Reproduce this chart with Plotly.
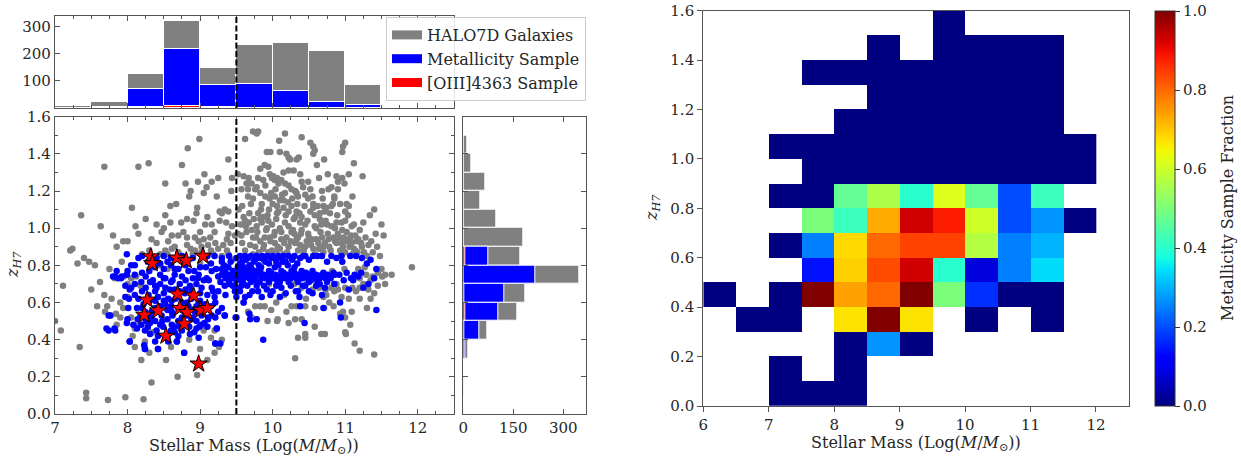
import numpy as np
import plotly.graph_objects as go

# ---------------------------------------------------------------- data
# HALO7D galaxies: stellar mass (log M/Msun) and redshift
gray_mass = [
    9.73, 9.78, 9.62, 8.99, 9.80, 10.17, 10.09, 10.40, 10.52, 10.56, 10.58, 10.56, 11.00, 10.97, 10.96,
    9.92, 9.97, 10.10, 10.19, 10.22, 10.24, 10.33, 10.36, 10.71, 10.61, 11.12, 8.83, 9.39, 7.68, 8.15,
    8.29, 8.75,
    9.06, 9.25, 9.16, 8.97, 8.80, 8.52, 8.87, 8.85, 9.05, 9.09, 9.23, 9.44, 9.43, 9.52, 9.60, 9.67,
    9.64, 9.57, 9.66, 9.71, 9.66, 9.73,
    9.83, 9.89, 9.94, 10.15, 10.22, 10.29, 10.38, 10.40, 10.64, 10.76, 10.88, 10.96, 11.05, 11.24,
    9.80, 9.87, 9.99, 10.03, 10.08, 9.96, 10.01, 10.06,
    10.12, 10.17, 10.22, 10.26, 10.31, 10.33, 10.49, 10.52, 10.68, 10.77, 10.81, 10.90, 10.99, 10.90,
    9.76, 9.83, 9.90, 9.96, 10.03, 10.10, 10.06, 10.17, 10.15, 10.35, 10.45, 10.49, 10.56, 10.56,
    10.70, 10.74, 10.81, 10.72, 10.65, 10.85, 10.85, 11.02, 11.05, 11.00, 11.10, 11.40, 11.34, 11.25,
    11.50, 11.42, 11.53, 11.48, 11.92,
    8.06, 8.67, 8.59, 8.96, 7.36, 8.52, 8.59, 8.82, 8.91, 7.63, 8.11, 8.74, 9.07, 9.16, 9.27, 9.30,
    9.34, 9.39, 9.27, 9.36, 9.44, 9.39, 9.37, 9.00, 8.93, 8.98, 9.05, 9.14, 8.77, 8.82, 8.70, 8.61,
    8.56, 8.47, 8.40, 8.33, 8.65, 8.61, 8.52, 7.80, 7.94, 7.85, 7.24, 7.31, 7.40, 7.47, 8.82, 8.87,
    8.93, 9.02, 9.11, 9.21, 9.25, 9.32, 9.37, 9.02, 9.09, 9.18, 9.30, 9.39,
    9.53, 9.60, 9.67, 9.71, 9.64, 9.57, 9.73, 9.69, 9.62, 9.73, 9.55, 9.62, 9.58,
    9.80, 9.87, 9.94, 9.85, 9.78, 9.92, 9.99, 10.03, 10.10, 10.17, 10.22, 10.26, 10.19, 10.12, 10.03,
    9.96, 9.89, 9.83, 9.76, 9.87, 9.99, 10.10, 10.22, 10.31, 10.35, 10.40, 10.45, 10.49, 10.54, 10.45,
    10.35, 10.56, 10.63, 10.68, 10.75, 10.81, 10.88, 10.95, 11.02, 11.09, 11.14, 11.04, 10.95, 10.86,
    10.77, 10.70, 10.93, 11.09, 11.18, 11.23, 11.32, 11.14, 11.00, 10.26, 10.22, 10.31, 10.40, 10.33,
    10.15, 10.06, 10.38,
    9.85, 9.95, 10.05, 10.30, 10.60, 10.65, 10.58, 10.90, 10.98, 11.20, 11.28, 10.47, 10.38, 10.80, 11.06,
    11.64, 11.51, 11.32, 11.20, 11.10, 11.45, 11.38, 11.29, 11.19, 10.82, 10.99, 11.18, 11.27, 11.50,
    10.55, 10.64, 10.73, 10.81, 10.90, 11.00, 10.30, 10.40, 10.48, 10.10, 9.95, 9.85, 9.75,
    11.09, 11.07, 11.13, 11.20, 11.40, 11.00, 11.01, 11.00, 10.97, 10.93, 10.84, 10.71, 10.67, 10.72,
    10.58, 10.45, 10.45, 10.35, 10.31, 10.40, 10.31, 10.22, 10.19, 10.07, 10.06, 9.93, 9.98, 9.76,
    9.83, 9.89, 10.05, 10.16, 10.26, 10.33, 10.45, 10.58, 10.46, 10.70, 10.74, 9.66, 9.71, 10.85,
    9.60, 11.30, 11.20, 11.35,
    7.11, 7.08, 7.34, 7.50, 7.58, 7.69, 7.77, 7.84, 7.78, 7.94, 8.07, 8.24, 8.19, 8.33, 8.53, 8.69,
    8.96, 9.10, 7.43, 7.43, 7.73, 7.97, 8.22, 9.26, 7.00, 7.21,
    7.95, 8.05, 8.12, 7.82, 8.00, 8.18, 8.30, 8.45, 8.55, 8.62, 8.75, 8.90, 9.00, 8.10, 8.16, 8.28,
    8.35, 7.90, 7.85, 8.00, 9.20, 9.30, 9.05,
    9.78, 9.84, 9.90, 9.93, 9.98, 10.00, 10.04, 10.08, 10.13, 10.18, 10.21, 10.27, 10.29, 10.34,
    10.37, 10.42, 10.44, 10.48, 10.52, 10.55, 10.58, 10.62, 10.66, 10.69, 10.73, 10.76, 10.79, 10.83,
    10.86, 10.89, 10.93, 10.96, 11.00, 11.04, 11.08, 11.12, 11.16, 11.22, 11.36, 11.44,
    9.79, 9.83, 9.88, 9.91, 9.97, 10.02, 10.07, 10.12, 10.16, 10.20, 10.25, 10.28, 10.33, 10.39,
    10.43, 10.50, 10.53, 10.60, 10.64, 10.67, 10.72, 10.78, 10.84, 10.88, 10.92, 10.97, 11.02, 11.07,
    11.12, 11.17, 11.26, 11.38,
    9.70, 9.68, 9.63, 9.58, 9.52, 9.56, 9.74, 9.77, 9.81, 9.94, 10.05, 10.15, 10.58, 10.70, 10.95,
    11.10, 11.30, 11.55, 11.45, 11.35, 11.25, 11.15, 11.05, 10.95, 10.88, 10.78, 11.40, 11.55, 11.20,
    8.40, 8.30, 8.20, 8.45, 8.55, 8.70, 8.85, 9.15, 9.42, 9.45, 9.48, 9.20, 9.10, 8.95, 8.50, 8.25,
    8.15, 8.00, 7.92, 7.75, 7.62, 7.55, 7.68, 7.72, 7.90, 8.05, 8.10, 8.30, 8.60, 9.00, 9.15, 9.20,
    8.85,
]
gray_z = [
    1.52, 1.51, 1.48, 1.48, 1.52, 1.51, 1.47, 1.49, 1.46, 1.44, 1.42, 1.40, 1.46, 1.44, 1.41,
    1.41, 1.41, 1.41, 1.40, 1.38, 1.37, 1.37, 1.38, 1.37, 1.34, 1.35, 1.43, 1.37, 1.33, 1.33,
    1.35, 1.34,
    1.29, 1.27, 1.25, 1.25, 1.24, 1.24, 1.20, 1.17, 1.19, 1.22, 1.17, 1.27, 1.20, 1.29, 1.28, 1.27,
    1.24, 1.21, 1.21, 1.24, 1.17, 1.16,
    1.32, 1.34, 1.33, 1.30, 1.31, 1.31, 1.29, 1.25, 1.27, 1.29, 1.28, 1.27, 1.29, 1.28,
    1.27, 1.26, 1.27, 1.26, 1.24, 1.29, 1.28, 1.27,
    1.26, 1.24, 1.23, 1.21, 1.20, 1.19, 1.25, 1.21, 1.20, 1.21, 1.22, 1.21, 1.24, 1.25,
    1.21, 1.19, 1.17, 1.16, 1.17, 1.15, 1.12, 1.19, 1.15, 1.17, 1.18, 1.16, 1.13, 1.11,
    1.12, 1.11, 1.12, 1.09, 1.08, 1.17, 1.16, 1.13, 1.12, 1.09, 1.17, 1.10, 1.07, 1.03,
    1.02, 0.97, 0.96, 0.85, 0.79,
    1.11, 1.13, 1.12, 1.11, 1.07, 1.07, 1.03, 1.05, 1.04, 1.01, 1.01, 1.03, 1.02, 1.02, 1.09, 1.08,
    1.10, 1.09, 1.04, 1.03, 1.01, 0.97, 0.94, 0.98, 0.95, 0.93, 0.94, 0.95, 0.98, 0.95, 0.96, 0.96,
    0.93, 0.98, 0.92, 0.94, 0.90, 0.89, 0.88, 0.96, 0.93, 0.90, 0.89, 0.81, 0.84, 0.82, 0.91, 0.89,
    0.88, 0.90, 0.91, 0.92, 0.89, 0.91, 0.88, 0.87, 0.85, 0.86, 0.85, 0.86,
    1.10, 1.06, 1.03, 0.99, 0.98, 0.96, 0.95, 0.91, 0.88, 0.86, 0.85, 1.04, 1.12,
    1.08, 1.06, 1.04, 1.03, 1.01, 1.00, 1.02, 0.98, 1.00, 1.03, 1.01, 0.98, 0.95, 0.94, 0.92,
    0.95, 0.95, 0.93, 0.90, 0.89, 0.88, 0.89, 0.90, 0.92, 0.95, 0.99, 1.02, 0.97, 0.94, 0.90,
    0.88, 0.89, 0.92, 0.95, 1.02, 1.01, 1.03, 1.03, 0.98, 1.01, 0.96, 0.94, 0.92, 0.93,
    0.94, 0.90, 0.88, 0.92, 0.94, 0.90, 0.91, 0.88, 0.87, 1.12, 1.09, 1.06, 1.06, 1.09,
    1.11, 1.08, 1.03,
    1.13, 1.10, 1.05, 0.97, 1.00, 1.05, 1.07, 0.97, 0.95, 0.99, 0.95, 0.93, 0.91, 0.88, 0.90,
    0.75, 0.74, 0.67, 0.68, 0.68, 0.69, 0.74, 0.75, 0.76, 0.77, 0.78, 0.78, 0.79, 0.78,
    0.67, 0.68, 0.67, 0.68, 0.67, 0.68, 0.70, 0.68, 0.71, 0.72, 0.70, 0.74, 0.77,
    0.55, 0.48, 0.38, 0.34, 0.32, 0.44, 0.43, 0.52, 0.55, 0.54, 0.58, 0.57, 0.43, 0.43,
    0.47, 0.43, 0.41, 0.41, 0.30, 0.51, 0.51, 0.49, 0.55, 0.51, 0.50, 0.50, 0.56, 0.58,
    0.58, 0.58, 0.60, 0.64, 0.58, 0.58, 0.58, 0.57, 0.62, 0.63, 0.64, 0.55, 0.52, 0.66,
    0.60, 0.57, 0.62, 0.62,
    0.69, 0.45, 0.36, 0.67, 0.58, 0.55, 0.53, 0.54, 0.62, 0.57, 0.42, 0.39, 0.29, 0.17, 0.29, 0.20,
    0.21, 0.29, 0.115, 0.085, 0.075, 0.09, 0.08, 0.36, 0.50, 0.88,
    0.74, 0.73, 0.74, 0.73, 0.70, 0.69, 0.78, 0.80, 0.78, 0.84, 0.85, 0.86, 0.81, 0.46, 0.48, 0.45,
    0.44, 0.60, 0.48, 0.63, 0.45, 0.40, 0.45,
    1.22, 1.10, 1.23, 1.07, 1.19, 1.13, 1.21, 1.09, 1.18, 1.07, 1.14, 1.16, 1.05, 1.13,
    1.08, 1.22, 1.12, 1.04, 1.09, 1.17, 1.01, 1.12, 0.98, 1.16, 1.04, 0.97, 1.08, 1.13,
    1.00, 1.07, 1.13, 0.99, 1.04, 1.07, 0.96, 1.02, 0.93, 0.92, 0.93, 0.90,
    0.98, 1.05, 0.91, 0.99, 0.93, 0.96, 0.90, 0.98, 0.92, 0.87, 0.93, 0.99, 0.94, 0.97,
    0.88, 0.95, 0.91, 0.94, 0.89, 1.02, 0.92, 0.90, 0.95, 0.92, 0.95, 0.90, 0.93, 0.94,
    0.89, 0.87, 0.87, 0.87,
    1.13, 1.08, 1.01, 0.92, 0.97, 1.02, 1.05, 0.95, 0.87, 0.87, 0.87, 0.86, 0.86, 0.87, 0.86,
    0.86, 0.85, 0.75, 0.76, 0.72, 0.70, 0.66, 0.62, 0.63, 0.70, 0.60, 0.65, 0.70, 0.73,
    1.02, 0.88, 0.86, 0.86, 0.86, 0.87, 0.83, 0.88, 0.92, 0.83, 0.96, 0.98, 1.06, 1.08, 1.00, 1.05,
    0.97, 0.93, 0.82, 0.78, 0.71, 0.80, 0.64, 0.58, 0.52, 0.52, 0.36, 0.33, 0.36, 0.35, 0.41, 0.33,
    0.40,
]

# Metallicity sample
blue_mass = [
    7.76, 7.74, 7.83, 8.00, 8.03, 7.99, 7.91, 7.97, 8.03, 7.97, 8.01, 8.24, 8.42, 8.68, 8.78, 8.99,
    9.23, 9.21, 9.28, 9.34, 9.50, 9.68, 9.78, 9.69, 9.87, 10.44, 10.38, 10.70, 10.94, 11.43, 11.05,
    10.93, 11.43, 11.30, 11.23, 11.07, 10.95, 10.81, 10.68, 10.84, 11.02, 11.11, 11.18, 11.40, 11.13,
    9.55, 9.62, 9.70, 9.78, 9.86, 9.93, 10.00, 10.08, 10.15, 10.22, 10.30, 10.45, 10.62,
    9.50, 9.66, 9.82, 9.98, 10.12, 10.27, 10.38,
    9.58, 9.74, 9.90, 10.05, 10.18,
    9.52, 9.60, 9.70, 9.84, 10.03, 10.30,
    9.45, 9.57, 9.65, 9.78, 9.95, 10.12, 10.26, 10.40, 10.55,
    9.30, 9.38, 9.47, 9.55, 9.63, 9.72, 9.80, 9.88, 9.96, 10.04, 10.12, 10.20, 10.28, 10.36, 10.44,
    10.52, 10.60, 10.68, 10.76, 10.86,
    9.35, 9.43, 9.52, 9.60, 9.68, 9.76, 9.85, 9.93, 10.01, 10.09, 10.17, 10.25, 10.33, 10.41, 10.49,
    10.57, 10.65, 10.73,
    9.40, 9.58, 9.70, 9.82, 9.95, 10.10, 10.22, 10.35, 10.50, 10.62, 10.75,
    9.48, 9.65, 9.88, 10.05, 10.25, 10.42, 10.60,
    9.55, 9.72, 9.80, 10.00, 10.32, 10.50,
    9.62, 9.85, 10.10, 10.37,
    7.74, 7.71, 7.82, 7.99, 8.08, 8.03, 8.23, 8.24, 8.42, 8.68, 8.78, 8.98, 9.23, 9.21, 9.34, 9.49,
    9.25, 9.16, 9.09, 8.05, 8.02, 8.14, 8.24, 8.31, 8.42, 8.56, 8.65, 8.75, 8.86, 8.95, 9.02, 9.11,
    9.16, 9.07, 8.98, 8.88, 8.79, 8.65, 8.52, 8.38, 8.29, 8.22, 8.33, 8.47, 8.61, 8.70, 8.82, 8.88,
    8.77, 8.61, 8.49, 8.38, 8.29, 8.19, 8.13, 8.52, 8.61, 8.38, 8.84, 8.93, 9.02, 9.11, 9.21, 8.38,
    8.52, 8.65, 8.84, 8.98, 9.16, 9.30, 9.39, 9.53, 9.62, 9.71, 9.69, 9.34, 9.48, 9.57, 7.92, 7.99,
    7.87, 8.19, 8.31, 8.42, 8.56, 8.68, 8.86, 9.02, 9.21, 9.30, 8.24, 8.13, 8.56, 8.38, 8.31,
    8.20, 8.40, 8.50, 8.60, 8.75, 8.90, 9.10, 9.20, 9.30, 9.40,
    8.10, 8.45, 8.60, 9.15, 9.30,
    8.30, 8.50, 8.70, 9.00,
    7.80, 8.10, 8.25, 8.45, 8.75, 8.90, 9.05, 9.25, 7.83,
    8.45, 8.60, 8.72, 8.95, 8.20, 8.50, 8.80, 9.10, 8.15, 8.45, 8.55, 8.75, 8.95, 9.15, 8.25, 8.55,
    8.70, 8.95, 8.40, 8.65, 8.85,
    9.33, 9.42, 9.55, 9.63, 9.68, 9.76, 9.81, 9.88, 9.95, 10.02, 10.08, 10.14, 10.21, 10.27, 10.34,
    10.42, 10.50, 10.56, 10.68, 10.75, 10.88, 10.96, 11.15, 11.35,
    9.32, 9.40, 9.50, 9.62, 9.70, 9.75, 9.83, 9.90, 9.98, 10.06, 10.15, 10.23, 10.30, 10.38, 10.46,
    10.53, 10.62, 10.70, 10.80, 10.92, 10.98, 11.08, 11.22, 11.32,
    9.45, 9.53, 9.60, 9.68, 9.78, 9.92, 9.97, 10.12, 10.18, 10.35, 10.45, 10.55, 10.65, 10.72,
    10.85, 11.25, 9.60, 9.50,
    8.05, 8.15, 8.28, 8.38, 8.55, 8.65, 8.80, 8.92, 9.08, 9.22, 9.35, 8.00, 7.85, 8.20, 8.35, 8.50,
    8.62, 8.80, 8.97, 9.12, 9.28, 9.40, 8.10, 8.25, 8.40, 8.58, 8.72, 8.88, 9.00, 9.18, 9.35, 8.10,
    8.30, 8.50, 8.66, 8.82, 9.00, 9.20, 8.20, 8.38, 8.60, 8.78, 8.90, 9.05, 9.25, 8.18, 8.33, 8.48,
    8.62, 8.75, 8.90, 9.06, 8.28, 8.45, 8.60, 8.72, 8.92, 9.10, 8.55, 8.70,
]
blue_z = [
    0.53, 0.45, 0.45, 0.51, 0.39, 0.86, 0.73, 0.69, 0.67, 0.63, 0.57, 0.35, 0.35, 0.39, 0.33, 0.47,
    0.46, 0.38, 0.38, 0.53, 0.52, 0.54, 0.51, 0.51, 0.40, 0.49, 0.58, 0.57, 0.52, 0.56, 0.67,
    0.60, 0.78, 0.81, 0.84, 0.85, 0.85, 0.85, 0.64, 0.76, 0.76, 0.72, 0.74, 0.73, 0.75,
    0.85, 0.85, 0.85, 0.85, 0.85, 0.85, 0.85, 0.85, 0.85, 0.85, 0.85, 0.85, 0.85,
    0.84, 0.84, 0.84, 0.84, 0.84, 0.84, 0.84,
    0.82, 0.82, 0.82, 0.82, 0.82,
    0.79, 0.79, 0.79, 0.79, 0.79, 0.79,
    0.77, 0.77, 0.77, 0.77, 0.77, 0.77, 0.77, 0.77, 0.77,
    0.75, 0.75, 0.75, 0.75, 0.75, 0.75, 0.75, 0.75, 0.75, 0.75, 0.75, 0.75, 0.75, 0.75, 0.75,
    0.75, 0.75, 0.75, 0.75, 0.75,
    0.73, 0.73, 0.73, 0.73, 0.73, 0.73, 0.73, 0.73, 0.73, 0.73, 0.73, 0.73, 0.73, 0.73, 0.73,
    0.73, 0.73, 0.73,
    0.71, 0.71, 0.71, 0.71, 0.71, 0.71, 0.71, 0.71, 0.71, 0.71, 0.71,
    0.69, 0.69, 0.69, 0.69, 0.69, 0.69, 0.69,
    0.66, 0.66, 0.66, 0.66, 0.66, 0.66,
    0.63, 0.63, 0.63, 0.63,
    0.53, 0.46, 0.46, 0.49, 0.48, 0.39, 0.37, 0.35, 0.35, 0.39, 0.33, 0.41, 0.46, 0.38, 0.53, 0.52,
    0.66, 0.68, 0.73, 0.68, 0.62, 0.51, 0.45, 0.43, 0.42, 0.43, 0.44, 0.45, 0.43, 0.46, 0.48, 0.52,
    0.53, 0.59, 0.60, 0.62, 0.65, 0.67, 0.68, 0.66, 0.64, 0.59, 0.55, 0.53, 0.55, 0.57, 0.53, 0.51,
    0.48, 0.48, 0.47, 0.50, 0.52, 0.48, 0.46, 0.59, 0.61, 0.61, 0.58, 0.55, 0.53, 0.51, 0.52, 0.69,
    0.73, 0.75, 0.77, 0.75, 0.77, 0.78, 0.79, 0.76, 0.77, 0.78, 0.73, 0.69, 0.66, 0.69, 0.74, 0.75,
    0.73, 0.71, 0.71, 0.63, 0.62, 0.63, 0.69, 0.68, 0.60, 0.57, 0.55, 0.57, 0.39, 0.39, 0.49,
    0.85, 0.84, 0.85, 0.84, 0.85, 0.84, 0.85, 0.85, 0.84, 0.85,
    0.80, 0.81, 0.80, 0.81, 0.82,
    0.77, 0.78, 0.78, 0.79,
    0.74, 0.75, 0.74, 0.75, 0.74, 0.73, 0.72, 0.74, 0.74,
    0.70, 0.71, 0.70, 0.70, 0.66, 0.65, 0.67, 0.64, 0.62, 0.58, 0.56, 0.60, 0.58, 0.58, 0.50, 0.51,
    0.50, 0.50, 0.45, 0.47, 0.47,
    0.80, 0.82, 0.81, 0.83, 0.80, 0.83, 0.80, 0.83, 0.81, 0.84, 0.80, 0.82, 0.80, 0.83, 0.81,
    0.85, 0.83, 0.85, 0.85, 0.82, 0.84, 0.82, 0.85, 0.83,
    0.77, 0.74, 0.72, 0.74, 0.76, 0.72, 0.77, 0.73, 0.76, 0.72, 0.76, 0.73, 0.76, 0.73, 0.76,
    0.72, 0.74, 0.76, 0.73, 0.75, 0.72, 0.73, 0.76, 0.70,
    0.69, 0.67, 0.70, 0.64, 0.69, 0.67, 0.64, 0.68, 0.65, 0.66, 0.69, 0.65, 0.70, 0.68,
    0.70, 0.68, 0.60, 0.63,
    0.80, 0.84, 0.82, 0.79, 0.82, 0.78, 0.80, 0.77, 0.79, 0.78, 0.76, 0.77, 0.77, 0.76, 0.72, 0.73,
    0.72, 0.72, 0.73, 0.72, 0.71, 0.70, 0.70, 0.68, 0.68, 0.67, 0.66, 0.66, 0.65, 0.66, 0.64, 0.64,
    0.61, 0.61, 0.62, 0.60, 0.61, 0.63, 0.57, 0.57, 0.58, 0.56, 0.56, 0.56, 0.55, 0.53, 0.52, 0.50,
    0.53, 0.52, 0.52, 0.49, 0.47, 0.48, 0.45, 0.47, 0.44, 0.47, 0.41, 0.42,
]

# [OIII]4363 sample
star_mass = [8.32, 8.34, 8.68, 8.81, 9.04, 8.69, 8.91, 8.27, 8.23, 8.42, 8.72, 8.82, 9.01, 9.10,
             8.78, 8.53, 8.98]
star_z = [0.847, 0.81, 0.84, 0.825, 0.85, 0.646, 0.637, 0.614, 0.533, 0.556, 0.569, 0.547, 0.56,
          0.569, 0.485, 0.42, 0.27]

# stellar-mass histogram (bins of 0.5 dex from 7.0)
mass_bin_left = [7.0, 7.5, 8.0, 8.5, 9.0, 9.5, 10.0, 10.5, 11.0]
mass_hist_all = [8, 22, 124, 321, 148, 232, 240, 209, 84]
mass_hist_metal = [1, 5, 69, 217, 86, 87, 64, 23, 11]
mass_hist_oiii = [0, 0, 5, 9, 3, 0, 0, 0, 0]

# redshift histogram (bins of 0.1 from 0.1)
z_bin_low = [0.1, 0.2, 0.3, 0.4, 0.5, 0.6, 0.7, 0.8, 0.9, 1.0, 1.1, 1.2, 1.3, 1.4]
z_hist_all = [3, 0, 15, 72, 162, 185, 348, 172, 180, 99, 50, 65, 25, 12]
z_hist_metal = [0, 0, 5, 47, 106, 122, 215, 74, 0, 0, 0, 0, 0, 0]
z_hist_oiii = [0, 1, 0, 2, 6, 3, 0, 5, 0, 0, 0, 0, 0, 0]

# metallicity-sample fraction per (mass, z) cell; None = no galaxies
frac_mass_edges = [6.0, 6.5, 7.0, 7.5, 8.0, 8.5, 9.0, 9.5, 10.0, 10.5, 11.0, 11.5, 12.0]
frac_z_edges = [0.0, 0.1, 0.2, 0.3, 0.4, 0.5, 0.6, 0.7, 0.8, 0.9, 1.0, 1.1, 1.2, 1.3, 1.4, 1.5, 1.6]
N = None
frac = [
    [N, N, 0, 0, 0, N, N, N, N, N, N, N],                                # 0.0-0.1
    [N, N, 0, N, 0, N, N, N, N, N, N, N],                                # 0.1-0.2
    [N, N, N, N, 0, 0.27, 0, N, N, N, N, N],                             # 0.2-0.3
    [N, 0, 0, N, 0.67, 1.0, 0.67, N, 0, N, 0, N],                        # 0.3-0.4
    [0, N, 0, 1.0, 0.74, 0.80, 1.0, 0.50, 0.17, 0, 0, N],                # 0.4-0.5
    [N, N, N, 0.14, 0.69, 0.83, 0.93, 0.40, 0.08, 0.25, 0.34, N],        # 0.5-0.6
    [N, N, 0, 0.25, 0.68, 0.80, 0.84, 0.84, 0.57, 0.25, 0.30, N],        # 0.6-0.7
    [N, N, N, 0.50, 0.42, 0.73, 0.93, 0.88, 0.60, 0.20, 0.27, 0],        # 0.7-0.8
    [N, N, 0, 0, 0.47, 0.56, 0.40, 0.62, 0.47, 0.20, 0.42, N],           # 0.8-0.9
    [N, N, N, 0, 0, 0, 0, 0, 0, 0, 0, 0],                                # 0.9-1.0
    [N, N, 0, 0, 0, 0, 0, 0, 0, 0, 0, 0],                                # 1.0-1.1
    [N, N, N, N, 0, 0, 0, 0, 0, 0, 0, N],                                # 1.1-1.2
    [N, N, N, N, N, 0, 0, 0, 0, 0, 0, N],                                # 1.2-1.3
    [N, N, N, 0, 0, 0, 0, 0, 0, 0, 0, N],                                # 1.3-1.4
    [N, N, N, N, N, 0, N, 0, 0, 0, 0, N],                                # 1.4-1.5
    [N, N, N, N, N, N, N, 0, N, N, N, N],                                # 1.5-1.6
]

mass_cut = 9.5

# ---------------------------------------------------------------- style
FONT = "DejaVu Serif"
TXT = "#262626"
FRAME = "#555555"
GRAY, BLUE, RED = "#808080", "#0000ff", "#ff0000"
W, H = 1241, 457
TICK_SIZE = 15
LABEL_SIZE = 16


def jet_scale(n=41):
    """Classic 'jet' colormap sampled into a Plotly colorscale."""
    seg = {
        "r": [(0, 0), (0.35, 0), (0.66, 1), (0.89, 1), (1, 0.5)],
        "g": [(0, 0), (0.125, 0), (0.375, 1), (0.64, 1), (0.91, 0), (1, 0)],
        "b": [(0, 0.5), (0.11, 1), (0.34, 1), (0.65, 0), (1, 0)],
    }
    out = []
    for v in np.linspace(0, 1, n):
        c = [np.interp(v, [p[0] for p in seg[k]], [p[1] for p in seg[k]]) for k in "rgb"]
        out.append([float(v), "rgb(%d,%d,%d)" % tuple(int(round(255 * q)) for q in c)])
    return out


def px_x(p):
    return p / W


def px_y(p):
    return 1 - p / H


fig = go.Figure()

# --- scatter panel
fig.add_trace(go.Scatter(x=gray_mass, y=gray_z, mode="markers", showlegend=False,
                         marker=dict(color=GRAY, size=6.5, line=dict(width=0)),
                         xaxis="x", yaxis="y"))
fig.add_trace(go.Scatter(x=blue_mass, y=blue_z, mode="markers", showlegend=False,
                         marker=dict(color=BLUE, size=6.5, line=dict(width=0)),
                         xaxis="x", yaxis="y"))
fig.add_trace(go.Scatter(x=star_mass, y=star_z, mode="markers", showlegend=False,
                         marker=dict(color=RED, symbol="star", size=13,
                                     line=dict(color="black", width=1)),
                         xaxis="x", yaxis="y"))

# --- top histogram (overlaid)
mass_centers = [b + 0.25 for b in mass_bin_left]
for counts, col in [(mass_hist_all, GRAY), (mass_hist_metal, BLUE), (mass_hist_oiii, RED)]:
    fig.add_trace(go.Bar(x=mass_centers, y=counts, width=0.5, showlegend=False,
                         marker=dict(color=col, line=dict(color="white", width=1)),
                         xaxis="x2", yaxis="y2"))

# --- side histogram (overlaid, horizontal)
z_centers = [b + 0.05 for b in z_bin_low]
for counts, col in [(z_hist_all, GRAY), (z_hist_metal, BLUE), (z_hist_oiii, RED)]:
    fig.add_trace(go.Bar(y=z_centers, x=counts, width=0.1, orientation="h", showlegend=False,
                         marker=dict(color=col, line=dict(color="white", width=1)),
                         xaxis="x3", yaxis="y3"))

# --- legend entries
for name, col in [("HALO7D Galaxies", GRAY), ("Metallicity Sample", BLUE),
                  ("[OIII]4363 Sample", RED)]:
    fig.add_trace(go.Scatter(x=[None], y=[None], mode="lines", name=name,
                             line=dict(color=col, width=9), xaxis="x", yaxis="y"))

# --- fraction map
mass_centers_map = [(a + b) / 2 for a, b in zip(frac_mass_edges[:-1], frac_mass_edges[1:])]
z_centers_map = [(a + b) / 2 for a, b in zip(frac_z_edges[:-1], frac_z_edges[1:])]
fig.add_trace(go.Heatmap(
    x=mass_centers_map, y=z_centers_map, z=frac, zmin=0, zmax=1,
    colorscale=jet_scale(), xaxis="x4", yaxis="y4", hoverongaps=False,
    colorbar=dict(
        x=px_x(1155), xanchor="left", xpad=0, ypad=0, thickness=20, thicknessmode="pixels",
        y=px_y(406), yanchor="bottom", len=(406 - 10.7) / H, lenmode="fraction",
        outlinecolor="#333333", outlinewidth=1,
        tickvals=[0, 0.2, 0.4, 0.6, 0.8, 1.0], ticktext=["0.0", "0.2", "0.4", "0.6", "0.8", "1.0"],
        ticks="outside", ticklen=5, tickcolor="#333333",
        tickfont=dict(family=FONT, size=TICK_SIZE, color=TXT),
    ),
))

# ---------------------------------------------------------------- axes
common_in = dict(showline=True, linecolor=FRAME, linewidth=1.2, mirror="allticks",
                 ticks="inside", ticklen=5, tickcolor=FRAME, showgrid=False, zeroline=False,
                 tickfont=dict(family=FONT, size=TICK_SIZE, color=TXT))
common_out = dict(showline=True, linecolor=FRAME, linewidth=1.2, mirror=True,
                  ticks="outside", ticklen=5, tickcolor=FRAME, showgrid=False, zeroline=False,
                  tickfont=dict(family=FONT, size=TICK_SIZE, color=TXT))
z_ticks = [0, 0.2, 0.4, 0.6, 0.8, 1.0, 1.2, 1.4, 1.6]
z_ticktext = ["%.1f" % v for v in z_ticks]

dom_scatter_x = [px_x(55), px_x(454)]
dom_scatter_y = [px_y(414), px_y(116.7)]

fig.update_layout(
    xaxis=dict(domain=dom_scatter_x, range=[7, 12.5], anchor="y",
               tickvals=[7, 8, 9, 10, 11, 12],
               minor=dict(ticks="inside", ticklen=3, dtick=0.25, tick0=7, tickcolor=FRAME),
               **common_in),
    yaxis=dict(domain=dom_scatter_y, range=[0, 1.6], anchor="x",
               tickvals=z_ticks, ticktext=z_ticktext,
               minor=dict(ticks="inside", ticklen=3, dtick=0.1, tick0=0, tickcolor=FRAME),
               **common_in),
    xaxis2=dict(domain=dom_scatter_x, range=[7, 12.5], anchor="y2", matches="x",
                showticklabels=False, tickvals=[7, 8, 9, 10, 11, 12],
                minor=dict(ticks="inside", ticklen=3, dtick=0.25, tick0=7, tickcolor=FRAME),
                **common_in),
    yaxis2=dict(domain=[px_y(108), px_y(16)], range=[0, 340], anchor="x2",
                tickvals=[100, 200, 300], **common_in),
    xaxis3=dict(domain=[px_x(463.3), px_x(585.7)], range=[0, 367], anchor="y3",
                tickvals=[0, 150, 300], **common_in),
    yaxis3=dict(domain=dom_scatter_y, range=[0, 1.6], anchor="x3", matches="y",
                showticklabels=False, tickvals=z_ticks, **common_in),
    xaxis4=dict(domain=[px_x(703.3), px_x(1128.7)], range=[6, 12.5], anchor="y4",
                tickvals=[6, 7, 8, 9, 10, 11, 12], **common_out),
    yaxis4=dict(domain=[px_y(406), px_y(10.7)], range=[0, 1.6], anchor="x4",
                tickvals=z_ticks, ticktext=z_ticktext, **common_out),
)

# mass cut marker in the scatter and top histogram
for xref, yref in [("x", "y domain"), ("x2", "y2 domain")]:
    fig.add_shape(type="line", xref=xref, yref=yref, x0=mass_cut, x1=mass_cut, y0=0, y1=1,
                  line=dict(color="black", width=2, dash="6px,2.5px"))

# axis titles
xtitle = "Stellar Mass (Log(<i>M</i>/<i>M</i><sub>⊙</sub>))"
ann = [
    dict(text=xtitle, x=px_x((55 + 454) / 2), y=px_y(446)),
    dict(text=xtitle, x=px_x((703.3 + 1128.7) / 2), y=px_y(443)),
    dict(text="<i>z<sub>H7</sub></i>", x=px_x(13), y=px_y(265), textangle=-90),
    dict(text="<i>z<sub>H7</sub></i>", x=px_x(652), y=px_y(208), textangle=-90),
    dict(text="Metallicity Sample Fraction", x=px_x(1227), y=px_y(208), textangle=-90),
]
for a in ann:
    fig.add_annotation(xref="paper", yref="paper", showarrow=False, xanchor="center",
                       yanchor="middle", font=dict(family=FONT, size=LABEL_SIZE, color=TXT), **a)

fig.update_layout(
    width=W, height=H, margin=dict(l=0, r=0, t=0, b=0, autoexpand=False),
    paper_bgcolor="white", plot_bgcolor="white", barmode="overlay", bargap=0,
    legend=dict(x=px_x(386), y=px_y(17), xanchor="left", yanchor="top",
                bgcolor="rgba(255,255,255,0.85)", bordercolor="#cccccc", borderwidth=1,
                font=dict(family=FONT, size=LABEL_SIZE, color=TXT), tracegroupgap=0,
                itemwidth=30),
)

fig.write_html("out.html")
